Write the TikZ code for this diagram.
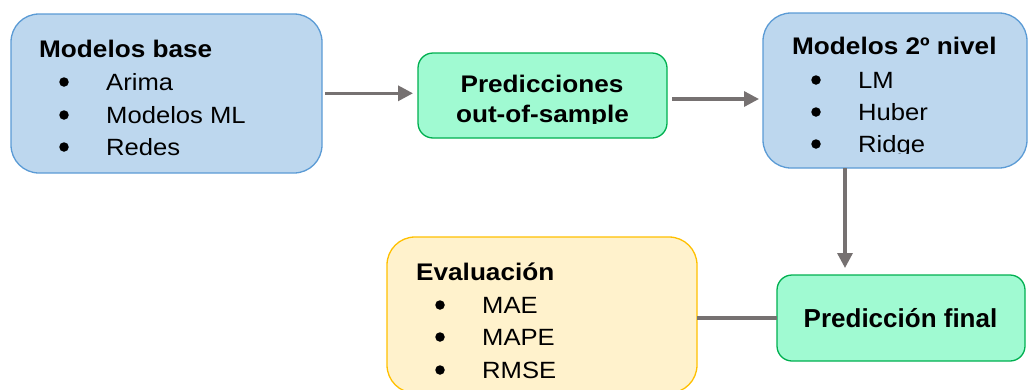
\documentclass[tikz,border=0pt]{standalone}
\usepackage{fontspec}
\setmainfont{Liberation Sans}[FakeStretch=1.09]
\newfontfamily\plainfont{Liberation Sans}
\usetikzlibrary{arrows.meta}
\definecolor{bluefill}{HTML}{BDD7EE}
\definecolor{blueline}{HTML}{5B9BD5}
\definecolor{greenfill}{HTML}{A0FAD2}
\definecolor{greenline}{HTML}{00B050}
\definecolor{yellowfill}{HTML}{FFF2CC}
\definecolor{yellowline}{HTML}{FFC000}
\definecolor{arrowgrey}{HTML}{767171}
\tikzset{
  boxbase/.style={draw, line width=1.3pt, inner sep=0pt, outer sep=0pt},
  bluebox/.style={boxbase, fill=bluefill, draw=blueline, rounded corners=28pt},
  greenbox/.style={boxbase, fill=greenfill, draw=greenline, rounded corners=15pt},
  yellowbox/.style={boxbase, fill=yellowfill, draw=yellowline, rounded corners=28pt},
  titletext/.style={inner sep=0pt, anchor=base west, font=\fontsize{24}{28}\selectfont\bfseries},
  ctitle/.style={inner sep=0pt, anchor=base, font=\fontsize{24}{28}\selectfont\bfseries},
  bulletdot/.style={circle, fill=black, inner sep=0pt, minimum size=9.5pt},
  itemtext/.style={inner sep=0pt, anchor=base west, font=\fontsize{23.5}{28}\selectfont},
  arr/.style={draw=arrowgrey, line width=3.3pt, -{Triangle[length=15pt,width=15pt]}},
  plainline/.style={draw=arrowgrey, line width=3.3pt}
}
\begin{document}
\begin{tikzpicture}[x=1pt,y=-1pt]
\useasboundingbox (0,0) rectangle (1029,389);
% boxes
\node[bluebox, minimum width=311pt, minimum height=159pt] (b1) at (166.5,93.5) {};
\node[greenbox, minimum width=249pt, minimum height=85pt] (b2) at (542.5,95.5) {};
\node[bluebox, minimum width=264pt, minimum height=155pt] (b3) at (895,90.5) {};
\node[yellowbox, minimum width=310pt, minimum height=156pt] (b5) at (542,315) {};
\node[greenbox, minimum width=248pt, minimum height=86pt] (b4) at (901,318) {};
% box 1 text
\node[titletext] (t1) at (39,57) {Modelos base};
\node[bulletdot] (t1b1) at (64,82) {};
\node[bulletdot] (t1b2) at (64,115) {};
\node[bulletdot] (t1b3) at (64,147) {};
\node[itemtext] (t1i1) at (106,90) {Arima};
\node[itemtext] (t1i2) at (106,123) {Modelos ML};
\node[itemtext] (t1i3) at (106,155) {Redes};
% box 2 text
\begin{scope}
\clip (418,53) rectangle (667,123.5);
\node[ctitle] (t2a) at (542,92) {Predicciones};
\node[ctitle] (t2b) at (542.5,122) {out-of-sample};
\end{scope}
% box 3 text
\begin{scope}
\clip (763,13) rectangle (1029,153.5);
\node[titletext] (t3) at (792,54) {Modelos 2º nivel};
\node[bulletdot] (t3b1) at (816,80) {};
\node[bulletdot] (t3b2) at (816,112) {};
\node[bulletdot] (t3b3) at (816,144) {};
\node[itemtext] (t3i1) at (858,88) {LM};
\node[itemtext] (t3i2) at (858,120) {Huber};
\node[itemtext] (t3i3) at (858,152) {Ridge};
\end{scope}
% box 5 text
\node[titletext] (t5) at (416,280) {Evaluación};
\node[bulletdot] (t5b1) at (440,305) {};
\node[bulletdot] (t5b2) at (440,337) {};
\node[bulletdot] (t5b3) at (440,370) {};
\node[itemtext] (t5i1) at (482,313) {MAE};
\node[itemtext] (t5i2) at (482,345) {MAPE};
\node[itemtext] (t5i3) at (482,378) {RMSE};
% box 4 text
\node[inner sep=0pt, anchor=base, font=\plainfont\fontsize{26}{30}\selectfont\bfseries] (t4) at (900.5,327) {Predicción final};
% connectors
\coordinate (a1s) at ([xshift=3pt,yshift=0.2pt]b1.east);
\coordinate (a1w) at (a1s -| b2.west);
\draw[arr] (a1s) -- ([xshift=-5pt]a1w);
\coordinate (a2s) at ([xshift=5pt,yshift=-3.5pt]b2.east);
\coordinate (a2w) at (a2s -| b3.west);
\draw[arr] (a2s) -- ([xshift=-4pt]a2w);
\draw[arr] ([xshift=-50pt]b3.south) -- ([xshift=-56pt,yshift=7pt]b4.north);
\draw[plainline] (b4.west -| b5.east) -- (b4.west);
\end{tikzpicture}
\end{document}
